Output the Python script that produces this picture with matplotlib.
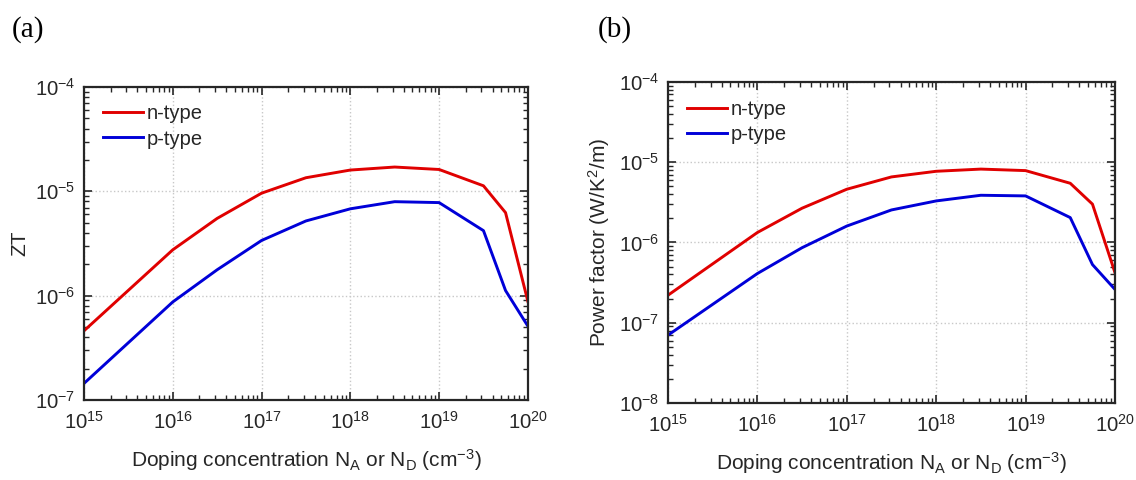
import math
import matplotlib
matplotlib.use('Agg')
import matplotlib.pyplot as plt
import matplotlib.ticker as mticker

# Donor/acceptor concentration (cm^-3)
doping = [1e15, 1e16, 3.16e16, 1e17, 3.16e17, 1e18, 3.16e18, 1e19, 3.16e19, 5.6e19, 1e20]

# (a) ZT
zt_n = [4.6e-7, 2.75e-6, 5.5e-6, 9.6e-6, 1.35e-5, 1.6e-5, 1.71e-5, 1.62e-5, 1.13e-5, 6.25e-6, 8.8e-7]
zt_p = [1.44e-7, 8.7e-7, 1.77e-6, 3.38e-6, 5.2e-6, 6.8e-6, 7.96e-6, 7.8e-6, 4.2e-6, 1.12e-6, 5.1e-7]

# (b) Power factor (W/K^2/m)
pf_n = [2.2e-7, 1.33e-6, 2.67e-6, 4.6e-6, 6.55e-6, 7.7e-6, 8.2e-6, 7.85e-6, 5.46e-6, 3.0e-6, 4.2e-7]
pf_p = [7.0e-8, 4.1e-7, 8.6e-7, 1.6e-6, 2.54e-6, 3.29e-6, 3.87e-6, 3.8e-6, 2.04e-6, 5.3e-7, 2.6e-7]

series_labels = ['n-type', 'p-type']
series_colors = ['#e00000', '#0000d8']

plt.rcParams['font.family'] = ['Liberation Sans', 'DejaVu Sans']
plt.rcParams['mathtext.fontset'] = 'custom'
plt.rcParams['mathtext.rm'] = 'Liberation Sans'
plt.rcParams['mathtext.it'] = 'Liberation Sans'
plt.rcParams['mathtext.default'] = 'regular'

fig = plt.figure(figsize=(11.36, 4.8), dpi=100)
ax_a = fig.add_axes([0.0739, 0.1667, 0.3908, 0.652])
ax_b = fig.add_axes([0.5880, 0.1604, 0.3935, 0.669])


def log_label(v, pos):
    e = int(round(math.log10(v)))
    return r'$10^{%d}$' % e


def style_axis(ax, ylim, ylabel, ylabelpad):
    ax.set_xscale('log')
    ax.set_yscale('log')
    ax.set_xlim(1e15, 1e20)
    ax.set_ylim(*ylim)
    ax.grid(True, which='major', linestyle=':', color='#c8c8c8', linewidth=1.0)
    ax.tick_params(which='both', direction='in', top=True, right=True,
                   colors='#262626', labelcolor='#262626', labelsize=14.6)
    ax.tick_params(which='major', length=6, width=1.2)
    ax.tick_params(axis='x', which='major', pad=8)
    ax.tick_params(axis='y', which='major', pad=6)
    ax.tick_params(which='minor', length=3.5, width=1.0)
    ax.xaxis.set_major_locator(mticker.LogLocator(base=10, numticks=10))
    ax.xaxis.set_minor_locator(mticker.LogLocator(base=10, subs=range(2, 10), numticks=20))
    ax.yaxis.set_major_locator(mticker.LogLocator(base=10, numticks=10))
    ax.yaxis.set_minor_locator(mticker.LogLocator(base=10, subs=range(2, 10), numticks=20))
    ax.xaxis.set_major_formatter(mticker.FuncFormatter(log_label))
    ax.yaxis.set_major_formatter(mticker.FuncFormatter(log_label))
    ax.xaxis.set_minor_formatter(mticker.NullFormatter())
    ax.yaxis.set_minor_formatter(mticker.NullFormatter())
    for sp in ax.spines.values():
        sp.set_color('#262626')
        sp.set_linewidth(1.6)
    ax.set_xlabel(r'Doping concentration N$_A$ or N$_D$ (cm$^{-3}$)', fontsize=15,
                  color='#262626', labelpad=10)
    ax.set_ylabel(ylabel, fontsize=15, color='#262626', labelpad=ylabelpad)


ax_a.plot(doping, zt_n, color=series_colors[0], lw=2.1, label=series_labels[0])
ax_a.plot(doping, zt_p, color=series_colors[1], lw=2.1, label=series_labels[1])
style_axis(ax_a, (1e-7, 1e-4), 'ZT', 4)

ax_b.plot(doping, pf_n, color=series_colors[0], lw=2.1, label=series_labels[0])
ax_b.plot(doping, pf_p, color=series_colors[1], lw=2.1, label=series_labels[1])
style_axis(ax_b, (1e-8, 1e-4), r'Power factor (W/K$^2$/m)', 5)

for ax in (ax_a, ax_b):
    leg = ax.legend(loc='upper left', frameon=False, fontsize=14.5, handlelength=2.0,
                    handletextpad=0.15, labelspacing=0.3, borderaxespad=0.0,
                    bbox_to_anchor=(0.025, 0.97))
    for t in leg.get_texts():
        t.set_color('#262626')

fig.text(0.010, 0.9375, '(a)', fontsize=21, family='Liberation Serif', va='center', ha='left')
fig.text(0.526, 0.9375, '(b)', fontsize=21, family='Liberation Serif', va='center', ha='left')

fig.savefig('out.png', dpi=100)
